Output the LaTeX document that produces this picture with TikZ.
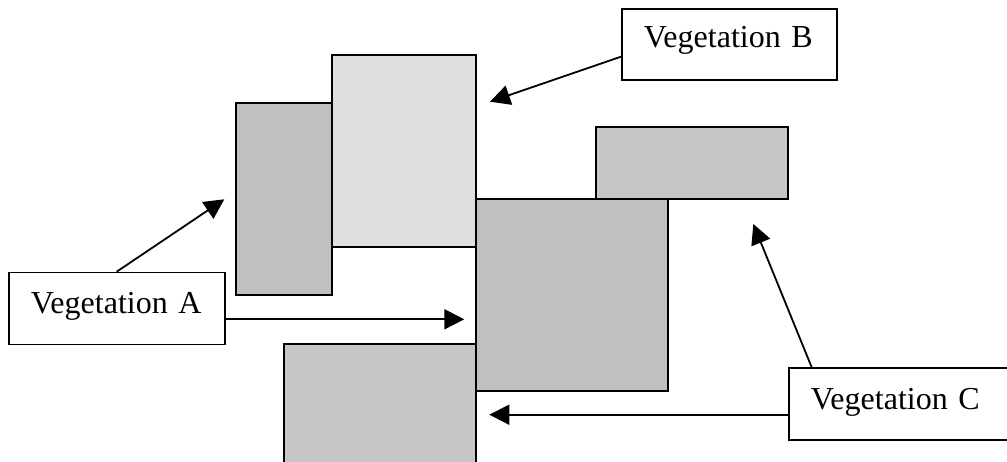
\documentclass[tikz,border=0pt]{standalone}
\usepackage{fontspec}
\setmainfont{Liberation Serif}
\usetikzlibrary{arrows.meta}
\definecolor{vegdark}{HTML}{C0C0C0}
\definecolor{veglight}{HTML}{DFDFDF}
\definecolor{vegmid}{HTML}{C6C6C6}
\tikzset{
  patch/.style={draw=black, line width=1.8pt},
  labelbox/.style={draw=black, fill=white, line width=1.8pt, anchor=north west,
    inner xsep=22pt, inner ysep=0pt, align=left,
    font=\fontsize{32}{38}\selectfont},
  pointer/.style={line width=1.8pt, -{Triangle[length=20pt,width=20pt]}}
}
\begin{document}
\begin{tikzpicture}[x=1pt,y=-1pt]
  \useasboundingbox (0,0) rectangle (1007,462);
  \clip (0,0) rectangle (1007,462);

  % vegetation patches
  \draw[patch, fill=vegdark]  (236,103.3) rectangle (332,295);
  \draw[patch, fill=veglight] (332,55.3) rectangle (476.3,247.3);
  \draw[patch, fill=vegmid]   (596,127.3) rectangle (788.3,199.3);
  \draw[patch, fill=vegdark]  (476,199.3) rectangle (668.3,391);
  \draw[patch, fill=vegmid]   (284,343.7) rectangle (476,536);

  % labels
  \node[labelbox, text width=172.3pt, text height=41pt, text depth=31pt]
    (boxA) at (8,271.7) {Vegetation A};
  \node[labelbox, text width=171pt, text height=38.7pt, text depth=32.6pt]
    (boxB) at (621,8) {Vegetation B};
  \node[labelbox, text width=200pt, text height=41.7pt, text depth=30pt]
    (boxC) at (788,367.3) {Vegetation C};

  % arrow targets
  \coordinate (tipA1) at (224.3,199.3);
  \coordinate (tipA2) at (464.3,319.3);
  \coordinate (tipB)  at (490,101.7);
  \coordinate (tipC1) at (753.3,224);
  \coordinate (tipC2) at (489.3,414.7);

  % pointers
  \draw[pointer] ([xshift=108.7pt]boxA.north west) -- (tipA1);
  \draw[pointer] ([yshift=-47.6pt]boxA.north east) -- (tipA2);
  \draw[pointer] ([yshift=-48.7pt]boxB.north west) -- (tipB);
  \draw[pointer] ([xshift=23.7pt]boxC.north west) -- (tipC1);
  \draw[pointer] ([yshift=-47.4pt]boxC.north west) -- (tipC2);
\end{tikzpicture}
\end{document}
